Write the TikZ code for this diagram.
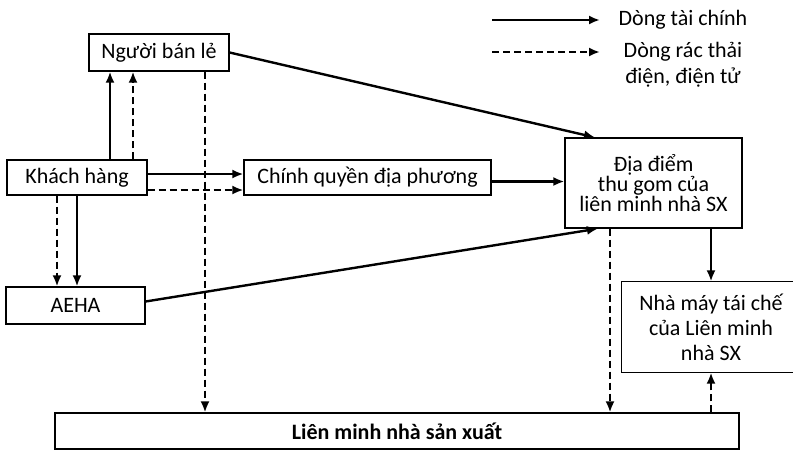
\documentclass[tikz,border=0pt]{standalone}
\usepackage{fontspec}
\setmainfont{Carlito}
\usetikzlibrary{arrows.meta}

\begin{document}
\begin{tikzpicture}[x=0.5pt, y=-0.5pt,
  box/.style={draw, line width=0.6pt, inner sep=0pt, align=center, font=\fontsize{11}{12.5}\selectfont},
  fin/.style={line width=1.2pt, -{Latex[length=5.5pt,width=4.5pt]}},
  rac/.style={fin, dash pattern=on 3.5pt off 2pt}]
  \path[fill=white, use as bounding box] (0,0) rectangle (793,451);

  % boxes
  \node[box, minimum width=70pt, minimum height=18.5pt] (ban) at (159,52.5) {Người bán lẻ};
  \node[box, minimum width=70pt, minimum height=17.5pt] (khach) at (77,177.5) {Khách hàng};
  \node[box, minimum width=123.5pt, minimum height=17.5pt] (cq) at (367.5,177.5) {Chính quyền địa phương};
  \node[box, minimum width=88.5pt, minimum height=45pt, font=\fontsize{11}{9.8}\selectfont] (dd) at (653.5,183) {Địa điểm\\thu gom của\\liên minh nhà SX};
  \node[box, minimum width=69.5pt, minimum height=18.5pt] (aeha) at (75.5,305.5) {AEHA};
  \node[box, draw=none, minimum width=89pt, minimum height=45pt] (nm) at (711,327) {Nhà máy tái chế\\của Liên minh\\nhà SX};
  \draw[line width=0.6pt] ([xshift=10pt]nm.north east) -- (nm.north west) -- (nm.south west) -- ([xshift=10pt]nm.south east);
  \node[box, minimum width=342pt, minimum height=18pt, font=\fontsize{11}{12.5}\selectfont\bfseries] (lm) at (397,431) {Liên minh nhà sản xuất};

  % legend
  \coordinate (fa) at (492,20);
  \coordinate (fb) at (600,20);
  \coordinate (ra) at (492,52);
  \coordinate (rb) at (600,52);
  \draw[fin] (fa) -- (fb);
  \draw[rac] (ra) -- (rb);
  \node[align=center, font=\fontsize{11}{12.5}\selectfont] (lfin) at (683,20) {Dòng tài chính};
  \node[align=center, font=\fontsize{11}{13}\selectfont] (lrac) at (683,65) {Dòng rác thải\\điện, điện tử};

  % flows
  \draw[fin] ([xshift=16.5pt]khach.north) -- ([xshift=-24.5pt]ban.south);
  \draw[rac] ([xshift=28pt]khach.north) -- ([xshift=-13pt]ban.south);
  \draw[rac] ([xshift=23pt]ban.south) -- ([xshift=23pt]ban.south |- lm.north);
  \draw[fin] (ban.east) -- ([xshift=-29.25pt]dd.north);
  \draw[fin] ([yshift=1.75pt]khach.east) -- ([yshift=1.75pt]cq.west);
  \draw[rac] ([yshift=-6.25pt]khach.east) -- ([yshift=-6.25pt]cq.west);
  \draw[fin] ([yshift=-2pt]cq.east) -- ([yshift=-2pt]cq.east -| dd.west);
  \draw[rac] ([xshift=-10pt]khach.south) -- ([xshift=-10pt]khach.south |- aeha.north);
  \draw[fin] (khach.south) -- (khach.south |- aeha.north);
  \draw[fin] ([yshift=2pt]aeha.east) -- ([xshift=-27.75pt]dd.south);
  \draw[rac] ([xshift=-21.75pt]dd.south) -- ([xshift=-21.75pt]dd.south |- lm.north);
  \draw[fin] ([xshift=28.75pt]dd.south) -- ([xshift=28.75pt]dd.south |- nm.north);
  \draw[rac] (nm.south |- lm.north) -- (nm.south);
\end{tikzpicture}
\end{document}
